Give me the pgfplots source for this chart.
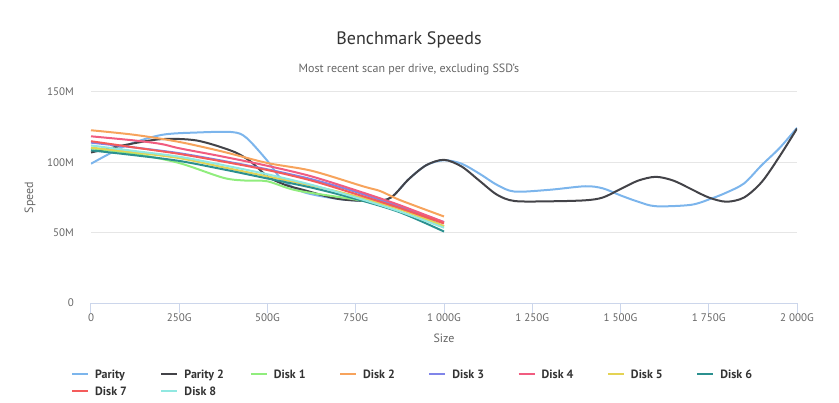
\documentclass[border=0pt]{standalone}
\usepackage{pgfplots}
\pgfplotsset{compat=1.18}
\usepackage{fontspec}
\setmainfont{PT Sans}
\definecolor{cP}{HTML}{7CB5EC}
\definecolor{cPb}{HTML}{434348}
\definecolor{cA}{HTML}{90ED7D}
\definecolor{cB}{HTML}{F7A35C}
\definecolor{cC}{HTML}{8085E9}
\definecolor{cD}{HTML}{F15C80}
\definecolor{cE}{HTML}{E4D354}
\definecolor{cF}{HTML}{2B908F}
\definecolor{cG}{HTML}{F45B5B}
\definecolor{cH}{HTML}{91E8E1}
\definecolor{grid}{HTML}{E6E6E6}
\definecolor{axl}{HTML}{CCD6EB}
\definecolor{lab}{HTML}{666666}
\definecolor{ttl}{HTML}{333333}
\begin{document}
\begin{tikzpicture}
\path[use as bounding box] (-91bp,-100bp) rectangle (748bp,303bp);
\begin{axis}[
  scale only axis, width=706bp, height=211bp,
  xmin=0, xmax=2000, ymin=0, ymax=150,
  axis x line*=bottom, axis y line*=left,
  x axis line style={draw=axl, line width=1bp, -},
  y axis line style={draw=none},
  xtick={0,250,500,750,1000,1250,1500,1750,2000},
  xticklabels={0,250G,500G,750G,1 000G,1 250G,1 500G,1 750G,2 000G},
  ytick={0,50,100,150},
  yticklabels={0,50M,100M,150M},
  xtick style={draw=axl, line width=1bp},
  ytick style={draw=none},
  tick align=outside, major tick length=10bp,
  ymajorgrids, grid style={draw=grid, line width=1bp},
  /pgf/number format/assume math mode=true,
  ticklabel style={font=\fontsize{11bp}{13bp}\selectfont, text=lab},
  yticklabel style={inner sep=0pt, anchor=east, xshift=-7bp},
  xticklabel style={inner sep=0pt, anchor=center, yshift=-5bp},
  xlabel={Size}, ylabel={Speed},
  every axis x label/.style={at={(axis description cs:0.5,-0.1659)}, anchor=center, font=\fontsize{12bp}{14bp}\selectfont, text=lab},
  every axis y label/.style={at={(axis description cs:-0.0864,0.5)}, anchor=center, rotate=90, font=\fontsize{12bp}{14bp}\selectfont, text=lab},
  legend columns=8,
  legend cell align=left,
  legend image code/.code={\draw[#1, line width=2bp] (0bp,0bp) -- (16bp,0bp);},
  legend style={at={(rel axis cs:0,0)}, anchor=north west, xshift=-20bp, yshift=-65bp,
    draw=none, fill=none, inner sep=0pt, row sep=5.5bp,
    nodes={inner sep=0pt},
    font=\fontsize{12bp}{14.4bp}\selectfont\bfseries, text=ttl,
    /tikz/every odd column/.append style={column sep=6bp},
    /tikz/every even column/.append style={column sep=0bp}},
]
\addplot[cP, line width=2bp, smooth, tension=0.5] table {
x y
0 99
100 112
200 119.5
300 121.2
400 121.5
440 117.5
500 101
540 88
600 79
700 74
800 72.5
850 75
900 88
950 98
1000 101.5
1050 99
1100 92
1150 84
1200 79.2
1300 80.5
1400 83
1450 81.5
1500 76.5
1550 72
1600 68.8
1700 69.8
1760 74.5
1800 78.5
1850 85
1900 98
1950 110
2000 124.5
};
\addlegendentry{\makebox[65.3bp][l]{\strut Parity}}
\addplot[cPb, line width=2bp, smooth, tension=0.5] table {
x y
0 107
100 112.5
200 116.5
300 115.5
400 108
450 101
500 90
550 84
600 80.5
700 74
800 72.5
850 75
900 88
950 98
1000 101.8
1050 97
1100 87
1150 77
1200 72.5
1300 72.3
1400 73
1450 75
1500 81
1550 87
1600 89.7
1650 87
1700 81
1750 75
1800 72
1850 75
1900 86
1950 104
2000 124
};
\addlegendentry{\makebox[65.3bp][l]{\strut Parity 2}}
\addplot[cA, line width=2bp, smooth, tension=0.5] table {
x y
0 110
125 106
250 99.5
375 89
440 87
500 86.5
583 80
750 73.5
875 67.5
1000 54.5
};
\addlegendentry{\makebox[65.3bp][l]{\strut Disk 1}}
\addplot[cB, line width=2bp, smooth, tension=0.5] table {
x y
0 122.8
125 119.5
250 114.5
375 107.5
500 99.5
625 94
770 83
820 79.5
875 73.2
1000 61.5
};
\addlegendentry{\makebox[65.3bp][l]{\strut Disk 2}}
\addplot[cC, line width=2bp, smooth, tension=0.5] table {
x y
0 114
125 110.5
250 106.5
375 101
500 95
625 88
750 79
875 68.5
1000 57.5
};
\addlegendentry{\makebox[65.3bp][l]{\strut Disk 3}}
\addplot[cD, line width=2bp, smooth, tension=0.5] table {
x y
0 118.5
125 115.5
200 113
250 110
375 104
500 97.5
625 90
770 78.5
875 69.5
1000 57.5
};
\addlegendentry{\makebox[65.3bp][l]{\strut Disk 4}}
\addplot[cE, line width=2bp, smooth, tension=0.5] table {
x y
0 110.5
125 107
250 103
375 96.5
500 90
625 83.5
750 76
875 66.5
1000 54.5
};
\addlegendentry{\makebox[65.3bp][l]{\strut Disk 5}}
\addplot[cF, line width=2bp, smooth, tension=0.5] table {
x y
0 108.5
125 105
250 101
375 95
500 88.5
625 82
750 74
875 64.5
1000 50.8
};
\addlegendentry{\makebox[65.3bp][l]{\strut Disk 6}}
\addplot[cG, line width=2bp, smooth, tension=0.5] table {
x y
0 115
125 110.5
250 106
375 100.5
500 94.5
625 87
750 77.5
875 67.5
1000 56.5
};
\addlegendentry{\makebox[65.3bp][l]{\strut Disk 7}}
\addplot[cH, line width=2bp, smooth, tension=0.5] table {
x y
0 112
125 108
250 104
375 98
500 91.5
625 84
750 75
875 65
1000 53.5
};
\addlegendentry{\makebox[65.3bp][l]{\strut Disk 8}}
\end{axis}
\node[font=\fontsize{18bp}{22bp}\selectfont, text=ttl] at (318bp,263bp) {Benchmark Speeds};
\node[font=\fontsize{12bp}{14bp}\selectfont, text=lab] at (318bp,233bp) {Most recent scan per drive, excluding SSD's};
\end{tikzpicture}
\end{document}
